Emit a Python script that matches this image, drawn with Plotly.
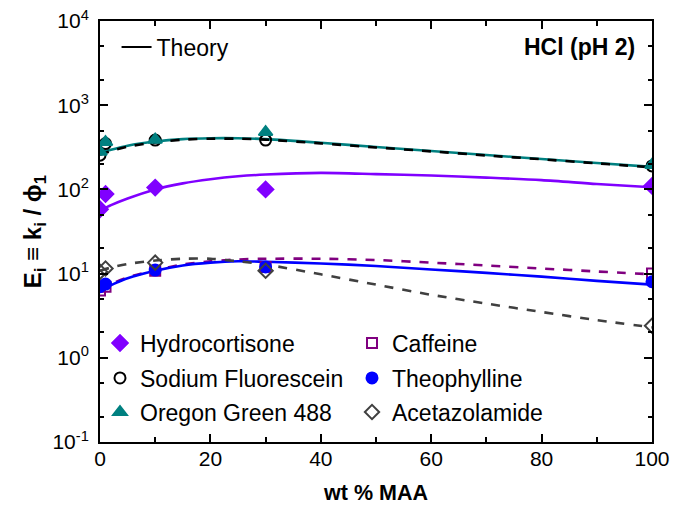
import plotly.graph_objects as go

# ---- measured data (wt % MAA) ----
x_pts = [0, 1, 10, 30, 100]
hydro_pts = [58, 88, 105, 100, 110]
sf_pts = [255, 350, 385, 385, 190]
og_pts = [280, 365, 390, 480, 195]
caff_pts = [6.3, 7.0, 10.8, 12.0, 10.0]
theo_pts = [7.0, 7.5, 11.0, 12.0, 8.0]
acet_pts = [10.5, 11.5, 13.5, 10.8, 2.4]

# ---- theory curves ----
x_th = [0, 2, 5, 10, 15, 20, 25, 30, 40, 50, 60, 70, 80, 90, 100]
og_th = [270, 295, 330, 370, 395, 405, 405, 395, 358, 319, 286, 256, 230, 206, 185]
sf_th = [258, 285, 322, 362, 390, 400, 400, 390, 352, 315, 283, 253, 228, 204, 183]
hydro_th = [56, 65, 78, 100, 118, 132, 143, 150, 157, 152, 146, 138, 129, 116, 106]
caff_th = [6.4, 7.5, 9.0, 11.0, 12.8, 14.0, 14.7, 15.0, 15.0, 14.5, 13.5, 12.5, 11.5, 10.6, 9.8]
theo_th = [6.4, 7.3, 8.8, 10.8, 12.5, 13.5, 14.0, 13.8, 13.2, 12.3, 11.2, 10.2, 9.2, 8.2, 7.4]
acet_th = [10.8, 11.8, 13.0, 14.3, 15.0, 15.0, 14.0, 12.8, 9.8, 7.4, 5.6, 4.4, 3.5, 2.8, 2.3]

y_tickvals = [0.1, 1, 10, 100, 1000, 10000]
y_ticktext = ["10<sup>-1</sup>", "10<sup>0</sup>", "10<sup>1</sup>", "10<sup>2</sup>",
              "10<sup>3</sup>", "10<sup>4</sup>"]
x_tickvals = [0, 20, 40, 60, 80, 100]

C_HYDRO = "#8000FF"
C_CAFF = "#800080"
C_SF = "#000000"
C_THEO = "#0000FF"
C_OG = "#008080"
C_ACET = "#404040"

fig = go.Figure()

# theory lines
lines = [
    (og_th, C_OG, "solid"),
    (sf_th, C_SF, "dash"),
    (hydro_th, C_HYDRO, "solid"),
    (caff_th, C_CAFF, "dash"),
    (theo_th, C_THEO, "solid"),
    (acet_th, C_ACET, "dash"),
]
for ys, c, d in lines:
    fig.add_trace(go.Scatter(x=x_th, y=ys, mode="lines", showlegend=False,
                             line=dict(color=c, width=2.6, dash=d, shape="spline", smoothing=0.8),
                             hoverinfo="skip"))

# data points: each legend row holds two entries
pts = [
    ("Hydrocortisone", hydro_pts, "diamond", C_HYDRO, 12, "legend"),
    ("Caffeine", caff_pts, "square-open", C_CAFF, 10, "legend"),
    ("Sodium Fluorescein", sf_pts, "circle-open", C_SF, 11, "legend3"),
    ("Theophylline", theo_pts, "circle", C_THEO, 11, "legend3"),
    ("Oregon Green 488", og_pts, "triangle-up", C_OG, 12, "legend4"),
    ("Acetazolamide", acet_pts, "diamond-open", C_ACET, 11, "legend4"),
]
for name, ys, sym, c, sz, lg in pts:
    fig.add_trace(go.Scatter(x=x_pts, y=ys, mode="markers", name=name,
                             marker=dict(symbol=sym, color=c, size=sz,
                                         line=dict(color=c, width=2)),
                             legend=lg))

# theory legend entry
fig.add_trace(go.Scatter(x=[None], y=[None], mode="lines", name="Theory",
                         line=dict(color="black", width=2), legend="legend2"))

axis_common = dict(showline=True, linecolor="black", linewidth=2, mirror="allticks",
                   ticks="inside", tickcolor="black", tickwidth=2, showgrid=False,
                   zeroline=False, tickfont=dict(size=21, color="black"), automargin=False)

fig.update_xaxes(range=[0, 100], tickvals=x_tickvals, ticklen=8, ticklabelstandoff=-3,
                 minor=dict(ticks="inside", ticklen=5, dtick=10, tickcolor="black", tickwidth=2),
                 title=dict(text="<b>wt % MAA</b>", font=dict(size=21.5, color="black"), standoff=16),
                 **axis_common)
fig.update_yaxes(type="log", range=[-1, 4], tickvals=y_tickvals, ticktext=y_ticktext,
                 ticklen=8, ticklabelstandoff=5,
                 minor=dict(ticks="inside", ticklen=4, tickcolor="black", tickwidth=1.5,
                            showgrid=False),
                 title=dict(text="<b>E<sub>i</sub> ≡ k<sub>i</sub> / ϕ<sub>1</sub></b>",
                            font=dict(size=24, color="black"), standoff=4),
                 **axis_common)

fig.add_annotation(x=0.972, y=0.938, xref="paper", yref="paper", xanchor="right",
                   yanchor="middle", text="<b>HCl (pH 2)</b>", showarrow=False,
                   font=dict(size=23, color="black"))

leg_common = dict(orientation="h", xanchor="left", yanchor="middle",
                  entrywidth=207, entrywidthmode="pixels", bgcolor="rgba(0,0,0,0)",
                  font=dict(size=23, color="black"), itemwidth=30)

fig.update_layout(
    width=673, height=506,
    margin=dict(l=100, r=21, t=21, b=64, autoexpand=False),
    paper_bgcolor="white", plot_bgcolor="white",
    font=dict(family="Liberation Sans, Arial, sans-serif", color="black"),
    legend=dict(x=0.0, y=0.235, **leg_common),
    legend3=dict(x=0.0, y=0.152, **leg_common),
    legend4=dict(x=0.0, y=0.071, **leg_common),
    legend2=dict(x=0.03, y=0.938, xanchor="left", yanchor="middle",
                 bgcolor="rgba(0,0,0,0)", font=dict(size=23, color="black")),
)

fig.write_html("out.html")
